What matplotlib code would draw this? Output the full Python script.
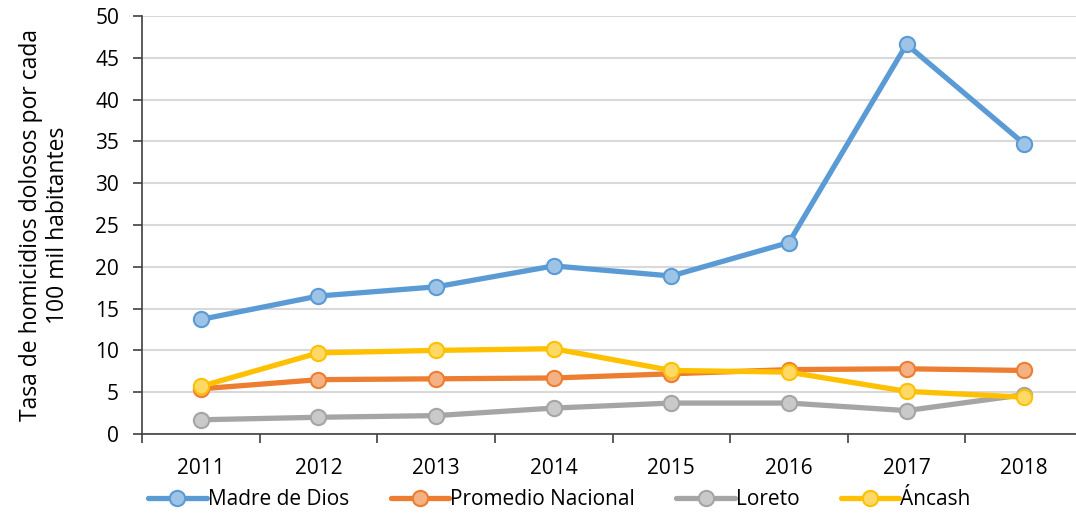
import matplotlib.pyplot as plt
import numpy as np

years = ['2011', '2012', '2013', '2014', '2015', '2016', '2017', '2018']
madre_de_dios = [13.7, 16.5, 17.6, 20.1, 18.9, 22.9, 46.6, 34.7]
promedio_nacional = [5.4, 6.5, 6.6, 6.7, 7.2, 7.7, 7.8, 7.6]
loreto = [1.7, 2.0, 2.2, 3.1, 3.7, 3.7, 2.8, 4.7]
ancash = [5.7, 9.7, 10.0, 10.2, 7.6, 7.4, 5.1, 4.4]

series = [
    ('Madre de Dios', madre_de_dios, '#5B9BD5', '#9DC3E6'),
    ('Promedio Nacional', promedio_nacional, '#ED7D31', '#F4B183'),
    ('Loreto', loreto, '#A5A5A5', '#C9C9C9'),
    ('Áncash', ancash, '#FFC000', '#FFD966'),
]

plt.rcParams['font.family'] = ['Open Sans', 'DejaVu Sans']

fig = plt.figure(figsize=(10.76, 5.13), dpi=100)
ax = fig.add_axes([0.132, 0.154, 0.8745, 0.815])

x = np.arange(len(years))
for name, vals, color, face in series:
    ax.plot(x, vals, color=color, lw=3.8, marker='o', ms=11, mfc=face, mec=color,
            mew=1.5, label=name, solid_capstyle='round')

ax.set_ylim(0, 50)
ax.set_yticks(range(0, 51, 5))
ax.set_xlim(-0.5, len(years) - 0.5)
ax.set_xticks(np.arange(-0.5, len(years), 1.0))
ax.set_xticklabels([])
ax.set_xticks(x, minor=True)
ax.set_xticklabels(years, minor=True)
ax.tick_params(axis='x', which='minor', length=0, pad=17, labelsize=15)
ax.tick_params(axis='x', which='major', length=6.5, width=1.2, color='#404040')
ax.tick_params(axis='y', length=6.5, width=1.2, color='#404040', labelsize=15, pad=10)

ax.grid(axis='y', color='#D9D9D9', lw=1.5, zorder=0)
ax.set_axisbelow(True)
for side in ['top', 'right']:
    ax.spines[side].set_visible(False)
for side in ['left', 'bottom']:
    ax.spines[side].set_color('#404040')
    ax.spines[side].set_linewidth(1.2)

ax.set_ylabel('Tasa de homicidios dolosos por cada\n100 mil habitantes', fontsize=16.5,
              labelpad=18, linespacing=1.2)

fig.legend(loc='center', bbox_to_anchor=(0.52, 0.026), ncol=4, frameon=False,
           fontsize=15, handlelength=2.8, handletextpad=0.05, columnspacing=2.0)

fig.savefig('out.png', dpi=100)
